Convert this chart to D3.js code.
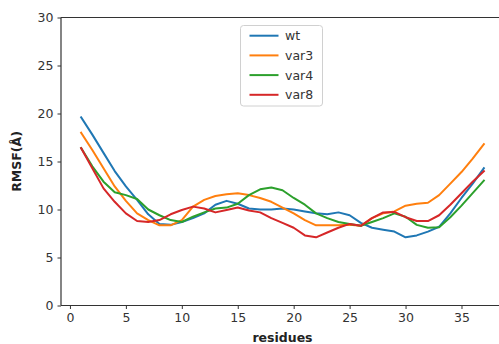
<!DOCTYPE html>
<html>
<head>
<meta charset="utf-8">
<script src="https://cdn.jsdelivr.net/npm/d3@7"></script>
<style>
  html, body { margin: 0; padding: 0; background: #fff; }
  svg { display: block; font-family: "DejaVu Sans", sans-serif; }
</style>
</head>
<body>
<svg id="chart" width="499" height="344"></svg>
<script>
// Residue numbers along the x axis
const residues = d3.range(1, 38);

// RMSF per residue for each variant (Å)
const wt   = [19.6, 17.8, 15.9, 14.0, 12.4, 11.0, 9.5, 8.5, 8.4, 8.7,
              9.1, 9.6, 10.5, 10.9, 10.6, 10.1, 10.0, 10.0, 10.1, 10.0,
              9.8, 9.6, 9.5, 9.7, 9.4, 8.6, 8.1, 7.9, 7.7, 7.1,
              7.3, 7.7, 8.2, 9.6, 11.2, 12.7, 14.3];
const var3 = [18.0, 16.2, 14.3, 12.4, 10.9, 9.6, 8.9, 8.35, 8.35, 8.9,
              10.3, 11.0, 11.4, 11.6, 11.7, 11.5, 11.2, 10.8, 10.2, 9.6,
              8.9, 8.35, 8.35, 8.35, 8.4, 8.3, 9.1, 9.6, 9.8, 10.4,
              10.6, 10.7, 11.5, 12.7, 13.9, 15.3, 16.8];
const var4 = [16.4, 14.5, 12.9, 11.8, 11.5, 11.1, 10.0, 9.4, 8.9, 8.7,
              9.25, 9.7, 10.1, 10.2, 10.6, 11.5, 12.1, 12.3, 12.0, 11.2,
              10.5, 9.6, 9.1, 8.7, 8.5, 8.3, 8.7, 9.1, 9.6, 9.25,
              8.4, 8.1, 8.15, 9.2, 10.4, 11.7, 13.0];
const var8 = [16.4, 14.3, 12.2, 10.8, 9.6, 8.8, 8.7, 8.9, 9.5, 9.95,
              10.3, 10.1, 9.7, 9.95, 10.2, 9.9, 9.7, 9.1, 8.6, 8.1,
              7.3, 7.1, 7.6, 8.1, 8.5, 8.3, 9.1, 9.7, 9.75, 9.2,
              8.8, 8.8, 9.4, 10.5, 11.7, 12.9, 14.0];

const seriesNames = ["wt", "var3", "var4", "var8"];
const seriesValues = [wt, var3, var4, var8];
const seriesColors = ["#1f77b4", "#ff7f0e", "#2ca02c", "#d62728"];

const xTicks = [0, 5, 10, 15, 20, 25, 30, 35];
const yTicks = [0, 5, 10, 15, 20, 25, 30];

const svg = d3.select("#chart");

// Plot frame (the right edge lies just past the visible area)
const frame = { left: 61, right: 504, top: 17.5, bottom: 305.5 };

const x = d3.scaleLinear().domain([-0.8, 38.8]).range([frame.left, frame.right]);
const y = d3.scaleLinear().domain([0, 30]).range([frame.bottom, frame.top]);

// Data lines
const line = d3.line()
  .x((d, i) => x(residues[i]))
  .y(d => y(d));

seriesValues.forEach((vals, k) => {
  svg.append("path")
    .datum(vals)
    .attr("fill", "none")
    .attr("stroke", seriesColors[k])
    .attr("stroke-width", 2)
    .attr("stroke-linejoin", "round")
    .attr("stroke-linecap", "square")
    .attr("d", line);
});

// Axes
const xAxis = d3.axisBottom(x).tickValues(xTicks).tickSize(3.5).tickPadding(4);
const yAxis = d3.axisLeft(y).tickValues(yTicks).tickSize(3.5).tickPadding(4);

const gx = svg.append("g").attr("transform", `translate(0,${frame.bottom})`).call(xAxis);
const gy = svg.append("g").attr("transform", `translate(${frame.left},0)`).call(yAxis);

[gx, gy].forEach(g => {
  g.select(".domain").remove();
  g.selectAll("line").attr("stroke", "#333").attr("stroke-width", 1);
  g.selectAll("text").attr("fill", "#333").style("font-size", "12.5px")
    .style("font-family", "DejaVu Sans, sans-serif");
});

// Spines
const spine = (x1, y1, x2, y2) => svg.append("line")
  .attr("x1", x1).attr("y1", y1).attr("x2", x2).attr("y2", y2)
  .attr("stroke", "#333").attr("stroke-width", 1.2);
spine(frame.left, frame.top, frame.left, frame.bottom);
spine(frame.left, frame.bottom, frame.right, frame.bottom);
spine(frame.left, frame.top, frame.right, frame.top);
spine(frame.right, frame.top, frame.right, frame.bottom);

// Axis titles
svg.append("text")
  .attr("x", (frame.left + frame.right) / 2).attr("y", 342)
  .attr("text-anchor", "middle")
  .style("font-weight", "bold").style("font-size", "12.5px")
  .attr("fill", "#222")
  .text("residues");

svg.append("text")
  .attr("transform", `translate(21,${(frame.top + frame.bottom) / 2}) rotate(-90)`)
  .attr("text-anchor", "middle")
  .style("font-weight", "bold").style("font-size", "12.5px")
  .attr("fill", "#222")
  .text("RMSF(Å)");

// Legend
const legend = svg.append("g");
legend.append("rect")
  .attr("x", 240.5).attr("y", 25.5).attr("width", 82).attr("height", 80.5)
  .attr("rx", 3).attr("fill", "#fff").attr("fill-opacity", 0.85)
  .attr("stroke", "#d0d0d0").attr("stroke-width", 1);

seriesNames.forEach((name, k) => {
  const cy = 35.7 + k * 19.7;
  legend.append("line")
    .attr("x1", 249.5).attr("x2", 278.5).attr("y1", cy).attr("y2", cy)
    .attr("stroke", seriesColors[k]).attr("stroke-width", 2);
  legend.append("text")
    .attr("x", 285).attr("y", cy + 4.5)
    .style("font-size", "12.5px").attr("fill", "#333")
    .text(name);
});
</script>
</body>
</html>
